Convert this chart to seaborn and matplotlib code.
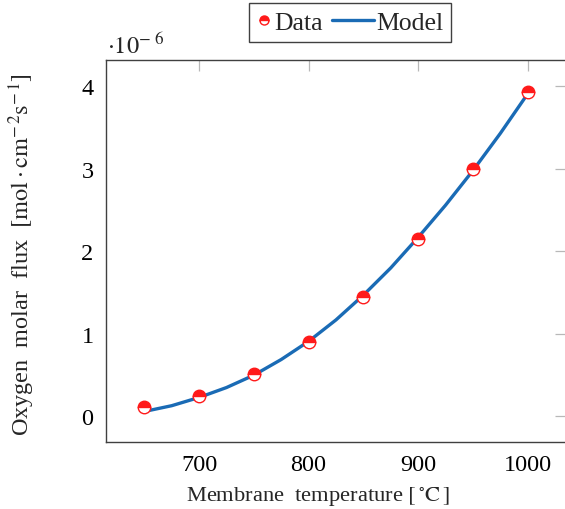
import matplotlib
matplotlib.use("Agg")
import matplotlib.pyplot as plt
import seaborn as sns
import pandas as pd
from matplotlib.lines import Line2D
from matplotlib.legend_handler import HandlerLine2D

# Data
data_temp = [650, 700, 750, 800, 850, 900, 950, 1000]
data_flux = [0.11, 0.25, 0.51, 0.90, 1.45, 2.15, 3.00, 3.93]

model_temp = [650, 675, 700, 725, 750, 775, 800, 825, 850, 875, 900, 925, 950, 975, 1000]
model_flux = [0.06, 0.13, 0.23, 0.35, 0.50, 0.69, 0.91, 1.17, 1.47, 1.80, 2.17, 2.56, 2.98, 3.43, 3.91]

x_ticks = [700, 800, 900, 1000]
y_ticks = [0, 1, 2, 3, 4]

sns.set_theme(style="white")
plt.rcParams["font.family"] = ["Liberation Serif", "DejaVu Serif"]
plt.rcParams["mathtext.fontset"] = "stix"

FS = 17.5
blue = "#1a6bb5"
red = "#ff1a1a"

fig = plt.figure(figsize=(5.65, 5.10), dpi=100)
ax = fig.add_axes([106 / 565, (510 - 443) / 510, (566 - 106) / 565, (443 - 61) / 510])

df_model = pd.DataFrame({"T": model_temp, "J": model_flux})
df_data = pd.DataFrame({"T": data_temp, "J": data_flux})

sns.lineplot(data=df_model, x="T", y="J", ax=ax, color=blue, linewidth=2.4, zorder=2)
sns.lineplot(data=df_data, x="T", y="J", ax=ax, linestyle="", marker="o",
             markersize=9, fillstyle="top", markerfacecolor=red,
             markerfacecoloralt="white", markeredgecolor=red,
             markeredgewidth=1.0, color=red, zorder=3)

ax.set_xlim(615, 1035)
ax.set_ylim(-0.31, 4.32)
ax.set_xticks(x_ticks)
ax.set_yticks(y_ticks)
ax.set_xticklabels([str(v) for v in x_ticks])
ax.set_yticklabels([str(v) for v in y_ticks])
ax.tick_params(axis="both", which="both", direction="in", top=True, right=True,
               length=8, width=0.9, color="#b8b8b8", labelsize=FS,
               labelcolor="black", pad=9)
for s in ax.spines.values():
    s.set_color("#404040")
    s.set_linewidth(1.0)

ax.set_xlabel(r"Membrane  temperature $[\,^{\circ}\mathrm{C}\,]$", fontsize=16.2)
ax.set_ylabel(r"Oxygen  molar  flux  $[\mathrm{mol}\cdot\mathrm{cm}^{-\,2}\mathrm{s}^{-\,1}]$",
              fontsize=FS)
ax.xaxis.set_label_coords((318 - 106) / 460, (443 - 497) / 382)
ax.xaxis.label.set_va("center")
ax.yaxis.set_label_coords((22 - 106) / 460, (443 - 255) / 382)
ax.yaxis.label.set_va("center")

fig.text(107 / 565, 1 - 46 / 510, r"$\cdot 10^{-\ 6}$", fontsize=FS, ha="left", va="center")


class LongLineHandler(HandlerLine2D):
    """Draw the legend line longer than the (short) handle box, extending left."""
    def get_xdata(self, legend, xdescent, ydescent, width, height, fontsize):
        xdata, xm = super().get_xdata(legend, xdescent, ydescent, width, height, fontsize)
        return [width - xdescent - 30, width - xdescent], xm


handles = [
    Line2D([], [], linestyle="", marker="o", markersize=6.5, fillstyle="top",
           markerfacecolor=red, markerfacecoloralt="white", markeredgecolor=red,
           markeredgewidth=1.0),
    Line2D([], [], color=blue, linewidth=2.4),
]
leg = fig.legend(handles, ["Data", "Model"], loc="center",
                 bbox_to_anchor=(350 / 565, 1 - 23.5 / 510), ncol=2, fontsize=18.5,
                 frameon=True, fancybox=False, framealpha=1, edgecolor="#404040",
                 handlelength=0.6, handletextpad=0.1, columnspacing=1.38,
                 borderpad=0.3, borderaxespad=0,
                 handler_map={handles[1]: LongLineHandler(numpoints=1)})
leg.get_frame().set_linewidth(1.0)

fig.savefig("out.png", dpi=100)
